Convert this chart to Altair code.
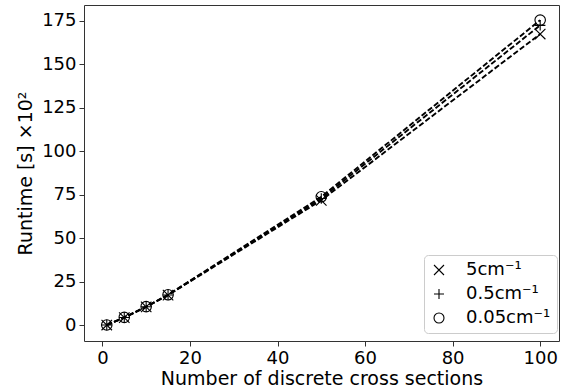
import altair as alt
import pandas as pd

x_vals = [1, 5, 10, 15, 50, 100]
y_5 = [0.0, 4.2, 10.4, 17.2, 71.8, 167.5]
y_05 = [0.0, 4.3, 10.5, 17.3, 72.8, 172.5]
y_005 = [0.0, 4.4, 10.6, 17.4, 73.8, 175.5]
series = ["5cm⁻¹", "0.5cm⁻¹", "0.05cm⁻¹"]

rows = []
for name, ys in zip(series, [y_5, y_05, y_005]):
    for xv, yv in zip(x_vals, ys):
        rows.append({"x": xv, "y": yv, "s": name})
df = pd.DataFrame(rows)

xs = alt.Scale(domain=[-4.2, 104.3], nice=False, zero=False)
ys_ = alt.Scale(domain=[-9.2, 184.2], nice=False, zero=False)

xenc = alt.X("x:Q", scale=xs, title="Number of discrete cross sections",
             axis=alt.Axis(values=[0, 20, 40, 60, 80, 100], grid=False))
yenc = alt.Y("y:Q", scale=ys_, title="Runtime [s] ×10²",
             axis=alt.Axis(values=[0, 25, 50, 75, 100, 125, 150, 175], grid=False))

lines = alt.Chart(df).mark_line(color="black", strokeWidth=1.9, strokeDash=[5.5, 2.4]).encode(
    x=xenc, y=yenc, detail="s:N"
)

shape_range = ["M-1,-1L1,1M-1,1L1,-1", "M-1,0L1,0M0,-1L0,1", "circle"]
points = alt.Chart(df).mark_point(filled=False, color="black", strokeWidth=1.1, size=110, opacity=1).encode(
    x=xenc, y=yenc,
    shape=alt.Shape("s:N", scale=alt.Scale(domain=series, range=shape_range),
                    legend=alt.Legend(title=None, orient="none", legendX=340, legendY=250,
                                      padding=6, cornerRadius=4, strokeColor="#cccccc",
                                      fillColor="white", labelFontSize=18, symbolSize=100,
                                      symbolStrokeColor="black", symbolStrokeWidth=1.1,
                                      rowPadding=6, labelOffset=18, symbolType="circle"))
)

chart = (lines + points).properties(
    width=475, height=336,
    autosize=alt.AutoSizeParams(type="none"),
    padding={"left": 84, "top": 5, "right": 2, "bottom": 51},
).configure_view(stroke="#333333", strokeWidth=1).configure_axis(
    labelFont="DejaVu Sans", titleFont="DejaVu Sans", labelFontSize=18, titleFontSize=19,
    labelColor="black", titleColor="black", titleFontWeight="normal",
    tickColor="#333333", tickSize=5, domain=False, labelPadding=3,
).configure_axisX(titlePadding=2).configure_axisY(titlePadding=6).configure_legend(
    labelFont="DejaVu Sans", labelColor="black"
)

chart.save("out.html", embed_options={"renderer": "svg", "actions": False})
